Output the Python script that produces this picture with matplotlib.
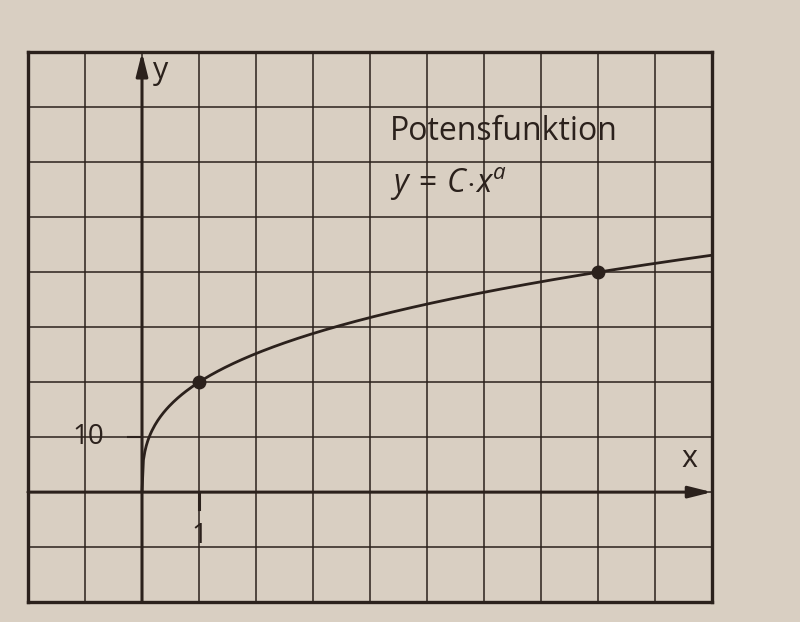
import numpy as np
import matplotlib.pyplot as plt

plt.rcParams['font.family'] = ['Open Sans', 'DejaVu Sans']
plt.rcParams['mathtext.fontset'] = 'custom'
plt.rcParams['mathtext.rm'] = 'Open Sans'
plt.rcParams['mathtext.it'] = 'Open Sans:italic'

# marked points on the curve
x_points = [1, 8]
y_points = [20, 40]

# y = C * x^a through the two marked points
C = y_points[0]
a = np.log(y_points[1] / y_points[0]) / np.log(x_points[1] / x_points[0])

x_range = [-2, 10]
y_range = [-20, 80]
x_ticks = list(range(-2, 11))
y_ticks = list(range(-20, 81, 10))

paper = "#d9cfc2"
ink = "#2b211c"

fig = plt.figure(figsize=(8, 6.22), dpi=100, facecolor=paper)
ax = fig.add_axes([0.035, 0.032, 0.855, 0.884])
ax.set_facecolor(paper)
ax.set_xlim(x_range)
ax.set_ylim(y_range)
ax.set_xticks(x_ticks)
ax.set_yticks(y_ticks)
ax.tick_params(length=0, labelleft=False, labelbottom=False)
ax.grid(True, color=ink, linewidth=1.1)
for s in ax.spines.values():
    s.set_color(ink)
    s.set_linewidth(2.4)

# axes with arrows
arrow = dict(arrowstyle="-|>,head_length=1.4,head_width=0.35",
             color=ink, lw=2.2, shrinkA=0, shrinkB=0)
ax.annotate("", xy=(x_range[1], 0), xytext=(x_range[0], 0), arrowprops=arrow)
ax.annotate("", xy=(0, y_range[1]), xytext=(0, y_range[0]), arrowprops=arrow)
ax.text(0.2, 76.5, "y", fontsize=22, color=ink, va="center", ha="left")
ax.text(9.6, 6, "x", fontsize=22, color=ink, va="center", ha="center")

# scale marks
ax.plot([-0.25, 0], [10, 10], color=ink, lw=1.5)
ax.text(-0.95, 10, "10", fontsize=20, color=ink, va="center", ha="center")
ax.plot([1, 1], [0, -3], color=ink, lw=2.2)
ax.text(1, -8, "1", fontsize=20, color=ink, va="center", ha="center")

# curve
xs = np.linspace(0, x_range[1], 400)
ax.plot(xs, C * xs ** a, color=ink, lw=2.0, solid_capstyle="butt")
ax.plot(x_points, y_points, "o", color=ink, markersize=9)

ax.text(4.35, 65.5, "Potensfunktion", fontsize=23, color=ink, va="center", ha="left")
ax.text(4.35, 56, r"$y\,=\,C\!\cdot\! x^{a}$", fontsize=23, color=ink, va="center", ha="left")

fig.savefig("out.png", dpi=100, facecolor=paper)
